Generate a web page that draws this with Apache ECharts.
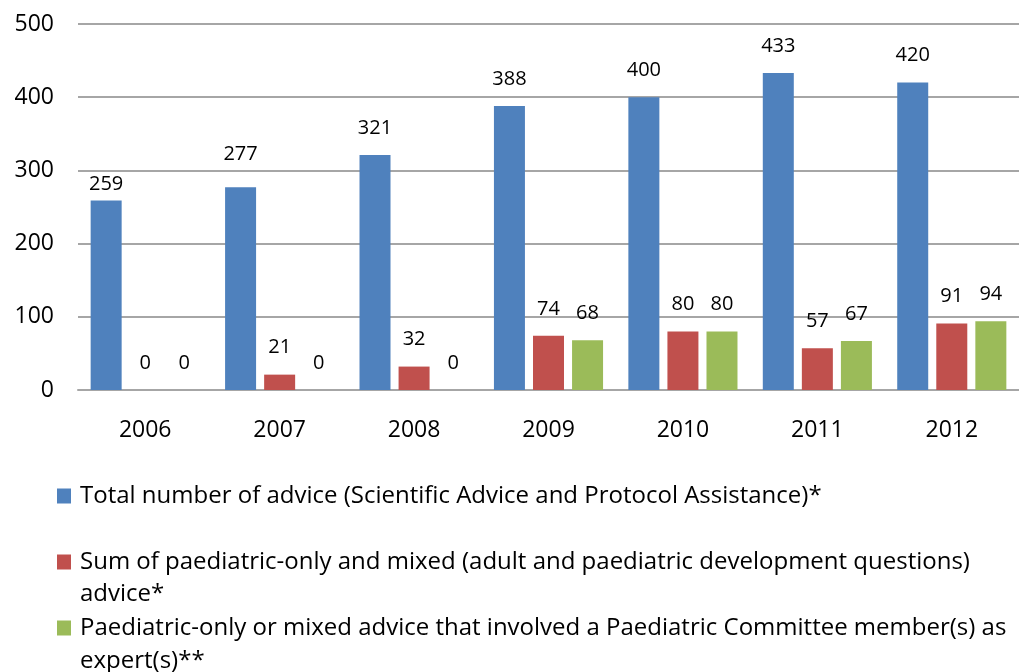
<!DOCTYPE html>
<html>
<head>
<meta charset="utf-8">
<script src="https://cdn.jsdelivr.net/npm/echarts@6/dist/echarts.min.js"></script>
<style>
html,body{margin:0;padding:0;background:#fff;}
#chart{width:1019px;height:672px;}
</style>
</head>
<body>
<div id="chart"></div>
<script>
const categories = ['2006', '2007', '2008', '2009', '2010', '2011', '2012'];
const totalAdvice = [259, 277, 321, 388, 400, 433, 420];
const paediatricMixed = [0, 21, 32, 74, 80, 57, 91];
const pdcoExpert = [0, 0, 0, 68, 80, 67, 94];
const seriesNames = [
  'Total number of advice (Scientific Advice and Protocol Assistance)*',
  'Sum of paediatric-only and mixed (adult and paediatric development questions)',
  'Paediatric-only or mixed advice that involved a Paediatric Committee member(s) as'
];
const legendContinuations = ['advice*', 'expert(s)**'];
const yTicks = [0, 100, 200, 300, 400, 500];

const FONT = '"Open Sans", Lato, sans-serif';
const colors = ['#4f81bd', '#c0504d', '#9bbb59'];

// label distance tweaks (styling, mirrors the reference's placement)
const labelDistOverride = {0: {0: 6, 1: 23}};

function makeSeries(idx, values) {
  return {
    name: seriesNames[idx],
    type: 'bar',
    barWidth: 31,
    barGap: '26%',
    itemStyle: {color: colors[idx]},
    label: {
      show: true, position: 'top', distance: 17,
      color: '#000', fontSize: 20, fontFamily: FONT
    },
    data: values.map((v, i) => {
      const o = labelDistOverride[idx] && labelDistOverride[idx][i];
      return o !== undefined ? {value: v, label: {distance: o}} : v;
    })
  };
}

const chart = echarts.init(document.getElementById('chart'), null, {renderer: 'canvas'});
chart.setOption({
  animation: false,
  backgroundColor: '#fff',
  textStyle: {fontFamily: FONT},
  grid: {left: 78, right: -14, top: 24, bottom: 282, containLabel: false},
  xAxis: {
    type: 'category',
    data: categories,
    axisLine: {show: true, lineStyle: {color: '#a6a6a6', width: 2}},
    axisTick: {show: false},
    axisLabel: {color: '#000', fontSize: 23, fontFamily: FONT, margin: 29}
  },
  yAxis: {
    type: 'value',
    min: yTicks[0], max: yTicks[yTicks.length - 1], interval: 100,
    axisLine: {show: false},
    axisTick: {show: false},
    splitLine: {lineStyle: {color: '#a6a6a6', width: 2}},
    axisLabel: {color: '#000', fontSize: 23, fontFamily: FONT, margin: 24}
  },
  legend: {
    orient: 'vertical',
    left: 57, top: 484,
    padding: 0,
    itemWidth: 14, itemHeight: 15,
    itemGap: 42,
    icon: 'rect',
    textStyle: {color: '#000', fontSize: 24, fontFamily: FONT, lineHeight: 24, padding: [0, 0, 0, 4]},
    data: seriesNames
  },
  graphic: [
    {type: 'text', left: 80, top: 582, style: {text: legendContinuations[0], font: '24px ' + FONT, fill: '#000'}},
    {type: 'text', left: 80, top: 649, style: {text: legendContinuations[1], font: '24px ' + FONT, fill: '#000'}}
  ],
  series: [
    makeSeries(0, totalAdvice),
    makeSeries(1, paediatricMixed),
    makeSeries(2, pdcoExpert)
  ]
});
</script>
</body>
</html>
